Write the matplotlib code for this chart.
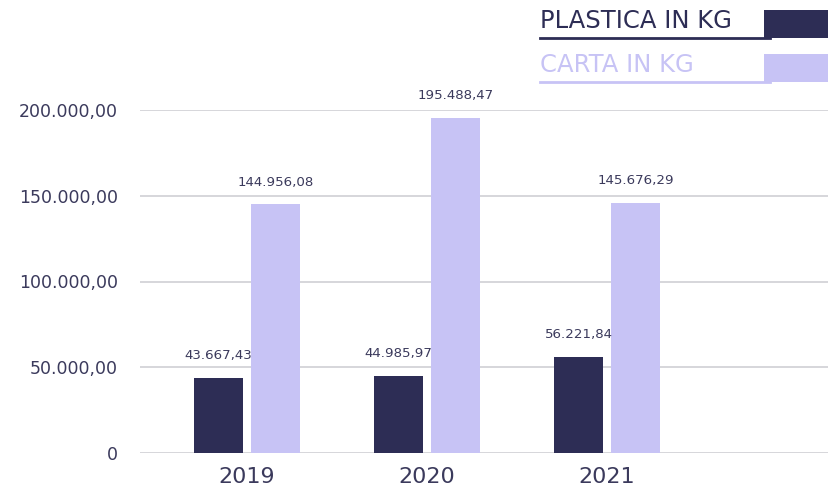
import numpy as np
import matplotlib
matplotlib.use("Agg")
import matplotlib.pyplot as plt
from matplotlib.patches import Rectangle
from matplotlib.lines import Line2D

anni = ["2019", "2020", "2021"]
plastica = [43667.43, 44985.97, 56221.84]
carta = [144956.08, 195488.47, 145676.29]
serie_nomi = ["PLASTICA IN KG", "CARTA IN KG"]
y_ticks = [0, 50000, 100000, 150000, 200000]

SCURO = "#2d2d55"
CHIARO = "#c7c3f5"
TESTO = "#3b3a5c"
GRIGLIA = "#d6d6da"

plt.rcParams["font.family"] = "DejaVu Sans"


def fmt_it(v, dec=2):
    # formato italiano: punto per le migliaia, virgola per i decimali
    if v == 0:
        return "0"
    s = "{:,.{}f}".format(v, dec)
    return s.replace(",", "#").replace(".", ",").replace("#", ".")


W, H = 829, 488
fig = plt.figure(figsize=(W / 100, H / 100), dpi=100)
ax = fig.add_axes([140 / W, (H - 453) / H, (829 - 140) / W, (453 - 110) / H])

x = np.arange(len(anni))
larg = 0.272
off = 0.158
b1 = ax.bar(x - off, plastica, larg, color=SCURO, zorder=3)
b2 = ax.bar(x + off, carta, larg, color=CHIARO, zorder=3)

for barre, valori in ((b1, plastica), (b2, carta)):
    for b, v in zip(barre, valori):
        ax.annotate(fmt_it(v), (b.get_x() + b.get_width() / 2, v),
                    xytext=(0, 16), textcoords="offset points",
                    ha="center", va="center", fontsize=9.6, color=TESTO)

ax.set_xlim(-0.594, 3.233)
ax.set_ylim(0, 200000)
ax.set_yticks(y_ticks)
ax.set_yticklabels([fmt_it(v) for v in y_ticks], fontsize=12.5, color=TESTO)
ax.set_xticks(x)
ax.set_xticklabels(anni, fontsize=16, color=TESTO)
ax.tick_params(axis="both", length=0)
ax.tick_params(axis="y", pad=16)
ax.tick_params(axis="x", pad=10)
ax.grid(axis="y", color=GRIGLIA, linewidth=1.4, zorder=0)
for s in ax.spines.values():
    s.set_visible(False)

# legenda personalizzata in alto a destra
def px(xp, yp):
    return xp / W, 1 - yp / H

for i, (nome, col) in enumerate(zip(serie_nomi, [SCURO, CHIARO])):
    y0 = 10 + i * 44
    fig.add_artist(Rectangle(px(764, y0 + 28), 65 / W, 28 / H,
                             transform=fig.transFigure, color=col, lw=0))
    fig.add_artist(Line2D([540 / W, 770 / W], [1 - (y0 + 27.5) / H] * 2,
                          transform=fig.transFigure, color=col, lw=2))
    fig.text(540 / W, 1 - (y0 + 11) / H, nome, fontsize=17.5, color=col,
             ha="left", va="center")

fig.savefig("out.png", dpi=100)
